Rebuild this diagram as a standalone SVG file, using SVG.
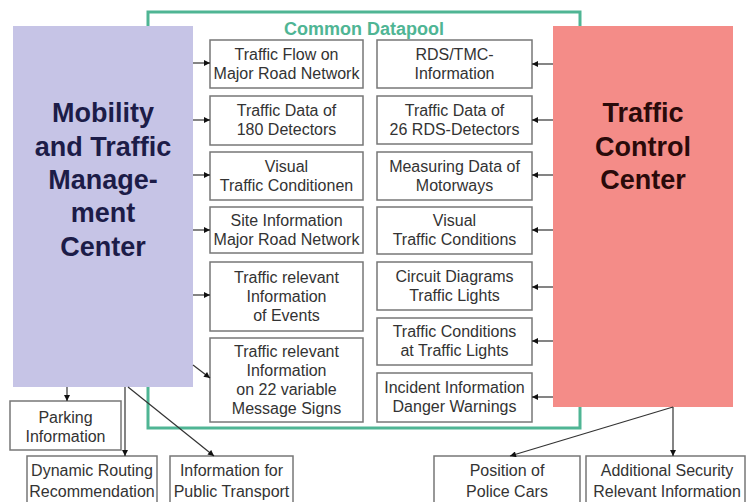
<svg xmlns="http://www.w3.org/2000/svg" width="746" height="502" viewBox="0 0 746 502">
<style>
.box{fill:#fff;stroke:#777;stroke-width:1.5}
.t{font-family:"Liberation Sans",Arial,sans-serif;font-size:16px;fill:#333;text-anchor:middle}
.big{font-family:"Liberation Sans",Arial,sans-serif;font-size:27px;font-weight:bold;text-anchor:middle}
.c{stroke:#333;stroke-width:1.2;fill:none}
</style>
<defs>
<marker id="ah" viewBox="0 0 10 10" refX="10" refY="5" markerWidth="7" markerHeight="6" markerUnits="userSpaceOnUse" orient="auto"><path d="M0,0 L10,5 L0,10 z" fill="#111"/></marker>
</defs>
<rect width="746" height="502" fill="#fff"/>
<g id="datapool">
<rect x="148" y="12" width="432" height="416" fill="none" stroke="#4fb594" stroke-width="3"/>
<text x="364" y="35" font-family="'Liberation Sans',Arial,sans-serif" font-size="18" font-weight="bold" fill="#4fb594" text-anchor="middle">Common Datapool</text>
</g>
<g id="mtmc">
<rect x="13" y="26" width="180" height="361" fill="#c6c4e6"/>
<text class="big" fill="#1c1c48" x="103"><tspan x="103" y="122">Mobility</tspan><tspan x="103" y="156">and Traffic</tspan><tspan x="103" y="189">Manage-</tspan><tspan x="103" y="222">ment</tspan><tspan x="103" y="256">Center</tspan></text>
</g>
<g id="tcc">
<rect x="553" y="26" width="180" height="381" fill="#f48c88"/>
<text class="big" fill="#2a0a0a"><tspan x="643" y="122">Traffic</tspan><tspan x="643" y="156">Control</tspan><tspan x="643" y="189">Center</tspan></text>
</g>
<g id="l1"><rect class="box" x="210" y="40" width="153" height="48"/><text class="t"><tspan x="286.5" y="60">Traffic Flow on</tspan><tspan x="286.5" y="79">Major Road Network</tspan></text></g>
<g id="l2"><rect class="box" x="210" y="96" width="153" height="49"/><text class="t"><tspan x="286.5" y="116">Traffic Data of</tspan><tspan x="286.5" y="135">180 Detectors</tspan></text></g>
<g id="l3"><rect class="box" x="210" y="152" width="153" height="48"/><text class="t"><tspan x="286.5" y="172">Visual</tspan><tspan x="286.5" y="191">Traffic Conditionen</tspan></text></g>
<g id="l4"><rect class="box" x="210" y="207" width="153" height="46"/><text class="t"><tspan x="286.5" y="226">Site Information</tspan><tspan x="286.5" y="245">Major Road Network</tspan></text></g>
<g id="l5"><rect class="box" x="210" y="262" width="153" height="69"/><text class="t"><tspan x="286.5" y="283">Traffic relevant</tspan><tspan x="286.5" y="302">Information</tspan><tspan x="286.5" y="321">of Events</tspan></text></g>
<g id="l6"><rect class="box" x="210" y="338" width="153" height="84"/><text class="t"><tspan x="286.5" y="357">Traffic relevant</tspan><tspan x="286.5" y="376">Information</tspan><tspan x="286.5" y="395">on 22 variable</tspan><tspan x="286.5" y="414">Message Signs</tspan></text></g>
<g id="r1"><rect class="box" x="377" y="40" width="155" height="48"/><text class="t"><tspan x="454.5" y="60">RDS/TMC-</tspan><tspan x="454.5" y="79">Information</tspan></text></g>
<g id="r2"><rect class="box" x="377" y="96" width="155" height="48"/><text class="t"><tspan x="454.5" y="116">Traffic Data of</tspan><tspan x="454.5" y="135">26 RDS-Detectors</tspan></text></g>
<g id="r3"><rect class="box" x="377" y="152" width="155" height="48"/><text class="t"><tspan x="454.5" y="172">Measuring Data of</tspan><tspan x="454.5" y="191">Motorways</tspan></text></g>
<g id="r4"><rect class="box" x="377" y="207" width="155" height="47"/><text class="t"><tspan x="454.5" y="226">Visual</tspan><tspan x="454.5" y="245">Traffic Conditions</tspan></text></g>
<g id="r5"><rect class="box" x="377" y="262" width="155" height="48"/><text class="t"><tspan x="454.5" y="282">Circuit Diagrams</tspan><tspan x="454.5" y="301">Traffic Lights</tspan></text></g>
<g id="r6"><rect class="box" x="377" y="318" width="155" height="47"/><text class="t"><tspan x="454.5" y="337">Traffic Conditions</tspan><tspan x="454.5" y="356">at Traffic Lights</tspan></text></g>
<g id="r7"><rect class="box" x="377" y="373" width="155" height="49"/><text class="t"><tspan x="454.5" y="393">Incident Information</tspan><tspan x="454.5" y="412">Danger Warnings</tspan></text></g>
<g id="parking"><rect class="box" x="10" y="401" width="111" height="49"/><text class="t"><tspan x="65.5" y="423">Parking</tspan><tspan x="65.5" y="442">Information</tspan></text></g>
<g id="routing"><rect class="box" x="27" y="456" width="130" height="60"/><text class="t"><tspan x="92" y="476">Dynamic Routing</tspan><tspan x="92" y="497">Recommendation</tspan></text></g>
<g id="transport"><rect class="box" x="170" y="456" width="123" height="60"/><text class="t"><tspan x="231.5" y="476">Information for</tspan><tspan x="231.5" y="497">Public Transport</tspan></text></g>
<g id="police"><rect class="box" x="434" y="456" width="146" height="60"/><text class="t"><tspan x="507" y="476">Position of</tspan><tspan x="507" y="497">Police Cars</tspan></text></g>
<g id="security"><rect class="box" x="586" y="456" width="159" height="60"/><text class="t"><tspan x="667" y="476">Additional Security</tspan><tspan x="667" y="497">Relevant Information</tspan></text></g>
<g id="connectors">
<line class="c" x1="193" y1="63" x2="210" y2="63" marker-end="url(#ah)"/>
<line class="c" x1="193" y1="120" x2="210" y2="120" marker-end="url(#ah)"/>
<line class="c" x1="193" y1="175" x2="210" y2="175" marker-end="url(#ah)"/>
<line class="c" x1="193" y1="230" x2="210" y2="230" marker-end="url(#ah)"/>
<line class="c" x1="193" y1="295" x2="210" y2="295" marker-end="url(#ah)"/>
<line class="c" x1="193" y1="365" x2="210" y2="378" marker-end="url(#ah)"/>
<line class="c" x1="553" y1="64" x2="532" y2="64" marker-end="url(#ah)"/>
<line class="c" x1="553" y1="120" x2="532" y2="120" marker-end="url(#ah)"/>
<line class="c" x1="553" y1="175" x2="532" y2="175" marker-end="url(#ah)"/>
<line class="c" x1="553" y1="230" x2="532" y2="230" marker-end="url(#ah)"/>
<line class="c" x1="553" y1="287" x2="532" y2="287" marker-end="url(#ah)"/>
<line class="c" x1="553" y1="341" x2="532" y2="341" marker-end="url(#ah)"/>
<line class="c" x1="553" y1="397" x2="532" y2="397" marker-end="url(#ah)"/>
<line class="c" x1="67" y1="387" x2="67" y2="401" marker-end="url(#ah)"/>
<line class="c" x1="125" y1="387" x2="125" y2="456" marker-end="url(#ah)"/>
<line class="c" x1="128" y1="387" x2="214" y2="456" marker-end="url(#ah)"/>
<line class="c" x1="673" y1="407" x2="673" y2="456" marker-end="url(#ah)"/>
<line class="c" x1="673" y1="407" x2="510" y2="456" marker-end="url(#ah)"/>
</g>
</svg>
